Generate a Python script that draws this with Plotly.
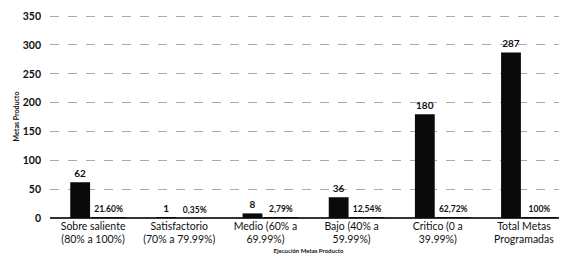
import plotly.graph_objects as go

categories = ["Sobre saliente<br>(80% a 100%)", "Satisfactorio<br>(70% a 79.99%)",
              "Medio (60% a<br>69.99%)", "Bajo (40% a<br>59.99%)",
              "Critico (0 a<br>39.99%)", "Total Metas<br>Programadas"]
metas = [62, 1, 8, 36, 180, 287]
porcentajes = [21.60, 0.35, 2.79, 12.54, 62.72, 100]
pct_labels = ["21.60%", "0,35%", "2,79%", "12,54%", "62,72%", "100%"]
y_ticks = [0, 50, 100, 150, 200, 250, 300, 350]

font_family = "Lato, Open Sans, sans-serif"

fig = go.Figure()
fig.add_trace(go.Bar(
    x=categories, y=metas, offset=-0.265, width=0.23,
    marker=dict(color="#0a0a0a", line=dict(width=0)),
    text=[str(v) for v in metas], textposition="outside",
    textfont=dict(size=10, color="#111", family=font_family, weight="bold"),
    cliponaxis=False, showlegend=False,
))
fig.add_trace(go.Bar(
    x=categories, y=[p / 100 for p in porcentajes], offset=-0.02, width=0.4,
    marker=dict(color="#0a0a0a", line=dict(width=0)),
    text=pct_labels, textposition="outside",
    textfont=dict(size=8.5, color="#111", family=font_family, weight="bold"),
    cliponaxis=False, showlegend=False,
))

fig.update_layout(
    width=559, height=261,
    margin=dict(l=42, r=0, t=7, b=51),
    paper_bgcolor="white", plot_bgcolor="white",
    barmode="overlay",
    font=dict(family=font_family, color="#111"),
    xaxis=dict(
        showgrid=False, automargin=False,
        tickfont=dict(size=10.5, color="#111", family=font_family),
        ticks="", showline=False,
        title=dict(text="Ejecución Metas Producto", font=dict(size=6, color="#111", family=font_family, weight="bold"), standoff=4),
    ),
    yaxis=dict(
        range=[0, 352], tickvals=y_ticks, showgrid=True, automargin=False,
        gridcolor="#aaa", griddash="dash", gridwidth=1,
        zeroline=True, zerolinecolor="#333", zerolinewidth=1.5,
        tickfont=dict(size=10.5, color="#111", family=font_family, weight="bold"),
        ticks="", showline=False, ticklabelstandoff=8,
        title=dict(text="Metas Producto", font=dict(size=7, color="#111", family=font_family, weight="bold"), standoff=2),
    ),
)

fig.write_html("out.html")
